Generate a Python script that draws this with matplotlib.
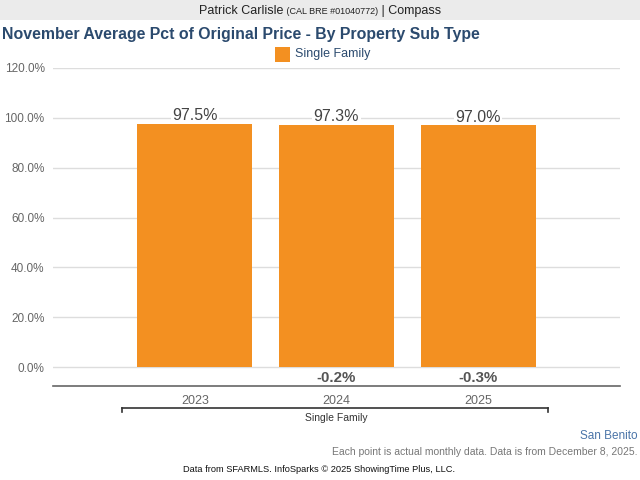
import matplotlib
matplotlib.use("Agg")
import matplotlib.pyplot as plt
from matplotlib.patches import Rectangle

plt.rcParams['font.family'] = ['Liberation Sans', 'DejaVu Sans']

# --- データ ---
years = ["2023", "2024", "2025"]
pct_values = [97.5, 97.3, 97.0]
pct_changes = [None, "-0.2%", "-0.3%"]
y_ticks = [0, 20, 40, 60, 80, 100, 120]
series_name = "Single Family"
bar_color = "#F39021"

fig = plt.figure(figsize=(6.4, 4.8), dpi=100)
renderer = fig.canvas.get_renderer()

# ヘッダー帯
fig.patches.append(Rectangle((0, 1 - 20 / 480), 1, 20 / 480, transform=fig.transFigure,
                             facecolor="#EBEBEB", edgecolor="none", zorder=0))
parts = [("Patrick Carlisle", 9), (" (CAL BRE #01040772)", 6.5), (" | Compass", 9)]
texts = [fig.text(0, 1 - 11 / 480, s, ha="left", va="center", fontsize=fs, color="#222222")
         for s, fs in parts]
widths = [t.get_window_extent(renderer).width for t in texts]
x0 = 320 - sum(widths) / 2
for t, w in zip(texts, widths):
    t.set_x(x0 / 640)
    x0 += w

fig.text(2 / 640, 1 - 34 / 480, "November Average Pct of Original Price - By Property Sub Type",
         ha="left", va="center", fontsize=11.4, fontweight="bold", color="#2B4A6E")

# 凡例
fig.patches.append(Rectangle((275 / 640, 1 - 62 / 480), 15 / 640, 15 / 480, transform=fig.transFigure,
                             facecolor=bar_color, edgecolor="none"))
fig.text(295 / 640, 1 - 54 / 480, series_name, ha="left", va="center", fontsize=9, color="#2B4A6E")

ax = fig.add_axes([53 / 640, 1 - 385.7 / 480, (620 - 53) / 640, (385.7 - 68) / 480])
ax.set_axisbelow(True)
x = [1, 2, 3]
ax.bar(x, pct_values, width=0.81, color=bar_color, zorder=2)
ax.set_xlim(0, 4)
ax.set_ylim(-7.5, 120)
ax.set_yticks(y_ticks)
ax.set_yticklabels([f"{v:.1f}%" for v in y_ticks], fontsize=8.5, color="#666666")
ax.yaxis.grid(True, color="#DDDDDD", linewidth=1)
ax.set_xticks(x)
ax.set_xticklabels(years, fontsize=9, color="#666666")
ax.tick_params(axis="both", length=0)
ax.tick_params(axis="x", pad=7)
ax.tick_params(axis="y", pad=6)
for s in ["top", "right", "left"]:
    ax.spines[s].set_visible(False)
ax.spines["bottom"].set_color("#666666")
ax.spines["bottom"].set_linewidth(1.2)
ax.spines["bottom"].set_zorder(3)

for xi, v, c in zip(x, pct_values, pct_changes):
    # 値ラベル（白背景でグリッド線を隠す、棒の下に置く）
    ax.text(xi, v + 3.3, f"{v:.1f}%", ha="center", va="center", fontsize=11.5, color="#444444",
            bbox=dict(facecolor="white", edgecolor="none", pad=1), zorder=1.8)
    if c:
        ax.text(xi, -4.4, c, ha="center", va="center", fontsize=10.8, fontweight="bold", color="#555555")

# ブラケット
y_br = 1 - 408 / 480
fig.lines.append(plt.Line2D([122 / 640, 548 / 640], [y_br, y_br], transform=fig.transFigure,
                            color="#333333", linewidth=1.2))
for xb in [122 / 640, 548 / 640]:
    fig.lines.append(plt.Line2D([xb, xb], [y_br, y_br - 4 / 480], transform=fig.transFigure,
                                color="#333333", linewidth=1.2))
fig.text(336 / 640, 1 - 418 / 480, series_name, ha="center", va="center", fontsize=7.5, color="#333333")

fig.text(638 / 640, 1 - 436 / 480, "San Benito", ha="right", va="center", fontsize=8.5, color="#4A74A8")
fig.text(637 / 640, 1 - 452 / 480, "Each point is actual monthly data. Data is from December 8, 2025.",
         ha="right", va="center", fontsize=7.5, color="#777777")
fig.text(319 / 640, 1 - 470 / 480, "Data from SFARMLS. InfoSparks © 2025 ShowingTime Plus, LLC.",
         ha="center", va="center", fontsize=6.7, color="#111111")

fig.savefig("out.png", dpi=100)
